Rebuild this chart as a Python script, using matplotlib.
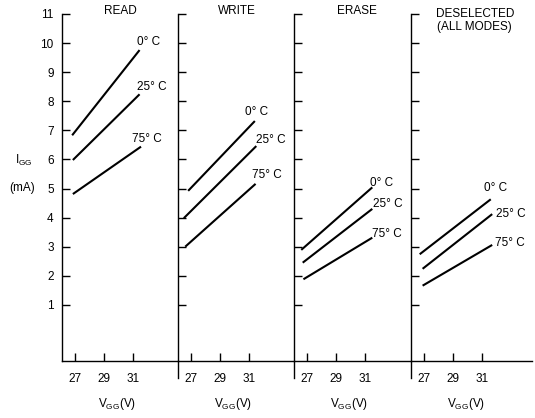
import matplotlib
matplotlib.use('Agg')
import matplotlib.pyplot as plt

plt.rcParams['font.family'] = ['Liberation Sans', 'DejaVu Sans']
plt.rcParams['mathtext.default'] = 'regular'

# panel titles
modes = ['READ', 'WRITE', 'ERASE', 'DESELECTED\n(ALL MODES)']
temps = ['0° C', '25° C', '75° C']

# V_GG end points of each line (0C, 25C, 75C)
read_vgg = [[26.8, 31.45], [26.85, 31.45], [26.85, 31.55]]
write_vgg = [[26.8, 31.4], [26.5, 31.5], [26.6, 31.45]]
erase_vgg = [[26.6, 31.5], [26.7, 31.5], [26.75, 31.5]]
desel_vgg = [[26.7, 31.6], [26.9, 31.7], [26.9, 31.7]]

# I_GG (mA) at those end points
read_igg = [[6.83, 9.76], [5.98, 8.24], [4.81, 6.44]]
write_igg = [[4.92, 7.32], [3.98, 6.46], [3.0, 5.16]]
erase_igg = [[2.89, 5.04], [2.45, 4.30], [1.88, 3.31]]
desel_igg = [[2.74, 4.63], [2.24, 4.12], [1.66, 3.06]]

vgg_ticks = [27, 29, 31]
igg_ticks = list(range(1, 12))

all_vgg = [read_vgg, write_vgg, erase_vgg, desel_vgg]
all_igg = [read_igg, write_igg, erase_igg, desel_igg]

# where the temperature labels sit relative to the line end (pixels)
label_off = [[(-3, 5), (-3, 4), (-9, 5)],
             [(-10, 6), (0, 3), (-4, 6)],
             [(-2, 1), (1, 2), (0, 1)],
             [(-7, 8), (4, -3), (3, -1)]]
title_x = [30.1, 30.15, 30.45, 30.5]

fig = plt.figure(figsize=(5.35, 4.18), dpi=100)

W, H = 535.0, 418.0
lefts = [62, 178, 294, 411]
widths = [116, 116, 117, 121]
bottom = (H - 361) / H
height = (361 - 14) / H

for i in range(4):
    ax = fig.add_axes([lefts[i] / W, bottom, widths[i] / W, height])
    ax.set_xlim(26.1, 26.1 + widths[i] / 14.5)
    ax.set_ylim(-0.93, 11)
    ax.spines['top'].set_visible(False)
    ax.spines['right'].set_visible(False)
    ax.spines['left'].set_linewidth(1.0)
    ax.spines['bottom'].set_linewidth(1.0)
    if i > 0:
        # y axis runs a bit past the V_GG axis
        ax.spines['left'].set_bounds(-1.5, 11)
    ax.patch.set_visible(False)

    ax.set_xticks(vgg_ticks)
    ax.set_yticks(igg_ticks)
    ax.tick_params(axis='x', direction='in', length=6, width=1, pad=9, labelsize=8.5)
    ax.tick_params(axis='y', direction='in', length=6, width=1, pad=6, labelsize=8.5)
    if i > 0:
        ax.set_yticklabels([])

    for j in range(3):
        ax.plot(all_vgg[i][j], all_igg[i][j], color='k', lw=1.5, solid_capstyle='butt')
        ax.annotate(temps[j], xy=(all_vgg[i][j][1], all_igg[i][j][1]),
                    xytext=label_off[i][j], textcoords='offset pixels',
                    ha='left', va='baseline', fontsize=8.5, annotation_clip=False)

    if i < 3:
        ax.text(title_x[i], 11, modes[i], ha='center', va='baseline', fontsize=8.5)
    else:
        ax.text(title_x[i], 11.2, modes[i], ha='center', va='top', fontsize=8.5,
                linespacing=1.1, multialignment='center')
    ax.text(29.9, -2.5, 'V$_{GG}$(V)', ha='center', va='baseline', fontsize=8.5)

fig.text(24 / W, 1 - 160 / H, 'I$_{GG}$', ha='center', va='center', fontsize=8.5)
fig.text(22.5 / W, 1 - 187.5 / H, '(mA)', ha='center', va='center', fontsize=8.5)

fig.savefig('out.png', dpi=100)
